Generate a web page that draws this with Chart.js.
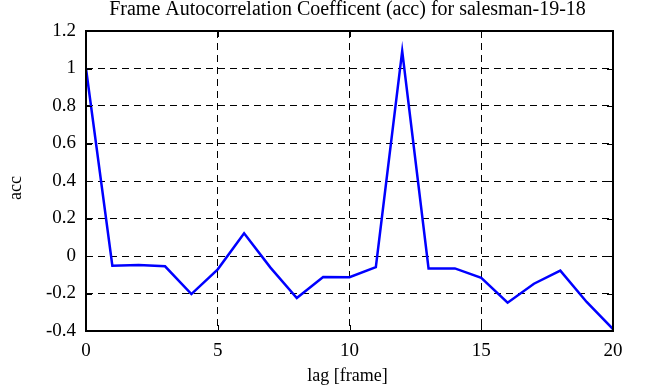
<!DOCTYPE html>
<html>
<head>
<meta charset="utf-8">
<script src="https://cdn.jsdelivr.net/npm/chart.js@4/dist/chart.umd.min.js"></script>
<style>
  html, body { margin: 0; padding: 0; background: #fff; }
  #wrap { width: 646px; height: 387px; position: relative; }
</style>
</head>
<body>
<div id="wrap"><canvas id="chart"></canvas></div>
<script>
// lag values (frames) and autocorrelation
const lags = [0, 1, 2, 3, 4, 5, 6, 7, 8, 9, 10, 11, 12, 13, 14, 15, 16, 17, 18, 19, 20];
const acc = [1.0, -0.052, -0.048, -0.055, -0.203, -0.071, 0.121, -0.062, -0.224, -0.112, -0.113,
             -0.059, 1.093, -0.066, -0.066, -0.116, -0.249, -0.148, -0.078, -0.245, -0.390];

const xTicks = [0, 5, 10, 15, 20];
const yTicks = [-0.4, -0.2, 0, 0.2, 0.4, 0.6, 0.8, 1, 1.2];

const titleText = 'Frame Autocorrelation Coefficent (acc) for salesman-19-18';
const xLabel = 'lag [frame]';
const yLabel = 'acc';

const FONT = '"Liberation Serif", "DejaVu Serif", serif';

// frame, inside tick marks and the text labels (placed like the original figure)
const framePlugin = {
    id: 'frame',
    afterDraw(chart) {
        const { ctx, chartArea: a, scales } = chart;
        ctx.save();
        ctx.strokeStyle = '#000';
        ctx.lineWidth = 1;
        xTicks.forEach((v) => {
            const px = Math.round(scales.x.getPixelForValue(v)) + 0.5;
            ctx.beginPath();
            ctx.moveTo(px, a.top); ctx.lineTo(px, a.top + 6);
            ctx.moveTo(px, a.bottom); ctx.lineTo(px, a.bottom - 6);
            ctx.stroke();
        });
        yTicks.forEach((v) => {
            const py = Math.round(scales.y.getPixelForValue(v)) + 0.5;
            ctx.beginPath();
            ctx.moveTo(a.left, py); ctx.lineTo(a.left + 6, py);
            ctx.moveTo(a.right, py); ctx.lineTo(a.right - 6, py);
            ctx.stroke();
        });
        ctx.lineWidth = 2;
        ctx.strokeRect(a.left, a.top, a.right - a.left, a.bottom - a.top);

        const cx = (a.left + a.right) / 2 - 2;
        ctx.fillStyle = '#000';
        ctx.textAlign = 'center';
        ctx.textBaseline = 'alphabetic';
        ctx.font = '20px ' + FONT;
        ctx.fillText(titleText, cx, 15);
        ctx.font = '18px ' + FONT;
        ctx.fillText(xLabel, cx, 381);
        ctx.textBaseline = 'middle';
        ctx.translate(16, 188);
        ctx.rotate(-Math.PI / 2);
        ctx.fillText(yLabel, 0, 0);
        ctx.restore();
    },
};

new Chart(document.getElementById('chart'), {
    type: 'line',
    data: {
        datasets: [{
            data: lags.map((x, i) => ({ x: x, y: acc[i] })),
            borderColor: '#0000ff',
            borderWidth: 2.5,
            pointRadius: 0,
            tension: 0,
            fill: false,
        }],
    },
    options: {
        responsive: true,
        maintainAspectRatio: false,
        animation: false,
        parsing: false,
        layout: { padding: { top: 31, right: 33, left: 0, bottom: 0 } },
        plugins: {
            legend: { display: false },
            tooltip: { enabled: false },
        },
        scales: {
            x: {
                type: 'linear',
                min: 0,
                max: 20,
                afterBuildTicks: (s) => { s.ticks = xTicks.map((v) => ({ value: v })); },
                afterFit: (s) => { s.height = 56; },
                grid: { color: '#000', lineWidth: 1, drawTicks: false },
                border: { display: false, dash: [7, 5] },
                ticks: {
                    color: '#000',
                    padding: 9,
                    maxRotation: 0,
                    font: { family: FONT, size: 19 },
                },
            },
            y: {
                min: -0.4,
                max: 1.2,
                afterBuildTicks: (s) => { s.ticks = yTicks.map((v) => ({ value: v })); },
                afterFit: (s) => { s.width = 86; },
                grid: { color: '#000', lineWidth: 1, drawTicks: false },
                border: { display: false, dash: [7, 5] },
                ticks: {
                    color: '#000',
                    padding: 10,
                    font: { family: FONT, size: 19 },
                    callback: (v) => String(Math.round(v * 10) / 10),
                },
            },
        },
    },
    plugins: [framePlugin],
});
</script>
</body>
</html>
